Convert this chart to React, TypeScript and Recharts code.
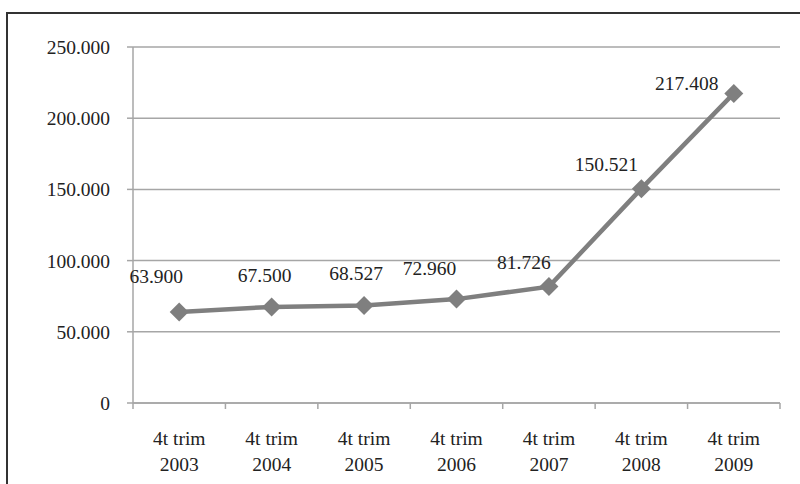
import { LineChart, Line, XAxis, YAxis, CartesianGrid, LabelList } from "recharts";

const categories = ["2003", "2004", "2005", "2006", "2007", "2008", "2009"];
const values = [63900, 67500, 68527, 72960, 81726, 150521, 217408];
const yTicks = [0, 50000, 100000, 150000, 200000, 250000];
// label offsets (dx, dy) from each point, as placed in the original
const labelDx = [-23, -7, -8, -27, -25, -35, -47];
const labelDy = [-35, -31, -31, -30, -24, -24, -9];

const data = categories.map((c, i) => ({ name: c, value: values[i] }));

const FONT = "'Liberation Serif', 'DejaVu Serif', serif";
const FS = 19.5;
const BAND = (780 - 133) / categories.length;

const fmt = (v: number) =>
  v === 0 ? "0" : v.toLocaleString("de-DE", { minimumFractionDigits: 0 });

function XTick(props: any) {
  const { x, y, payload, index } = props;
  const last = index === categories.length - 1;
  return (
    <g>
      <line x1={x - BAND / 2} y1={y - 8} x2={x - BAND / 2} y2={y - 2} stroke="#a6a6a6" strokeWidth={1.5} />
      {last && (
        <line x1={x + BAND / 2} y1={y - 8} x2={x + BAND / 2} y2={y - 2} stroke="#a6a6a6" strokeWidth={1.5} />
      )}
      <text x={x} y={y + 34} textAnchor="middle" fontSize={FS} fill="#222" fontFamily={FONT}>
        4t trim
      </text>
      <text x={x} y={y + 60} textAnchor="middle" fontSize={FS} fill="#222" fontFamily={FONT}>
        {payload.value}
      </text>
    </g>
  );
}

function Diamond(props: any) {
  const { cx, cy } = props;
  const r = 9.5;
  return (
    <path
      d={`M${cx},${cy - r} L${cx + r},${cy} L${cx},${cy + r} L${cx - r},${cy} Z`}
      fill="#7f7f7f"
    />
  );
}

function PointLabel(props: any) {
  const { x, y, value, index } = props;
  return (
    <text
      x={x + labelDx[index]}
      y={y + labelDy[index] + 6}
      textAnchor="middle"
      fontSize={FS}
      fill="#222"
      fontFamily={FONT}
    >
      {fmt(value)}
    </text>
  );
}

export default function App() {
  return (
    <div style={{ position: "absolute", left: 0, top: 0, width: 800, height: 484, overflow: "hidden", background: "#fff" }}>
      <div
        style={{
          position: "absolute",
          left: 6,
          top: 12,
          width: 900,
          height: 600,
          borderLeft: "2px solid #333",
          borderTop: "2px solid #333",
        }}
      />
      <div style={{ position: "absolute", left: 0, top: 0 }}>
        <LineChart width={800} height={484} data={data} margin={{ top: 47, right: 20, left: 0, bottom: 0 }}>
          <CartesianGrid vertical={false} stroke="#a6a6a6" strokeWidth={1.5} />
          <XAxis
            dataKey="name"
            height={81}
            tick={<XTick />}
            tickLine={false}
            axisLine={{ stroke: "#a6a6a6", strokeWidth: 1.5 }}
            interval={0}
            padding={{ left: BAND / 2, right: BAND / 2 }}
          />
          <YAxis
            width={133}
            domain={[0, 250000]}
            ticks={yTicks}
            tickFormatter={fmt}
            tickSize={6}
            tickMargin={17}
            tickLine={{ stroke: "#a6a6a6", strokeWidth: 1.5 }}
            axisLine={{ stroke: "#a6a6a6", strokeWidth: 1.5 }}
            tick={{ fontSize: FS, fill: "#222", fontFamily: FONT }}
          />
          <Line
            type="linear"
            dataKey="value"
            stroke="#7f7f7f"
            strokeWidth={4.5}
            dot={<Diamond />}
            activeDot={false}
            isAnimationActive={false}
          >
            <LabelList dataKey="value" content={<PointLabel />} />
          </Line>
        </LineChart>
      </div>
    </div>
  );
}
